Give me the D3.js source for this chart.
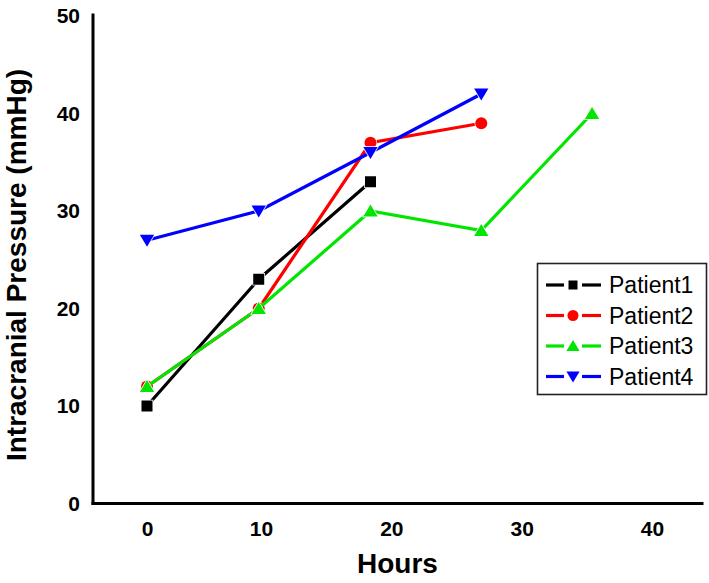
<!DOCTYPE html>
<html>
<head>
<meta charset="utf-8">
<script src="https://cdn.jsdelivr.net/npm/d3@7"></script>
<style>
  html, body { margin: 0; padding: 0; background: #fff; }
  svg { display: block; }
  text { font-family: "Liberation Sans", Arial, Helvetica, sans-serif; }
</style>
</head>
<body>
<svg id="chart" width="709" height="583"></svg>
<script>
// ---- data ----
const hours = [0, 9.8, 18.4, 26.9, 35.4];
const patient1 = [10, 23, 33];
const patient2 = [12, 20, 37, 39];
const patient3 = [12, 20, 30, 28, 40];
const patient4 = [27, 30, 36, 42];
const seriesNames = ["Patient1", "Patient2", "Patient3", "Patient4"];
const seriesColors = ["#000000", "#ff0000", "#00e600", "#0000ff"];
const seriesShapes = ["square", "circle", "triangleUp", "triangleDown"];
const xTicks = [0, 10, 20, 30, 40];
const yTicks = [0, 10, 20, 30, 40, 50];
const xTitle = "Hours";
const yTitle = "Intracranial Pressure (mmHg)";

const seriesValues = [patient1, patient2, patient3, patient4];

const svg = d3.select("#chart");

// piecewise-linear x axis (as drawn in the original figure)
const x = d3.scaleLinear().domain([-4.7, 0, 10, 40, 43.85]).range([93, 147, 261, 652, 702]);
const y = d3.scaleLinear().domain([0, 50]).range([503.5, 16]);

// axes
const xAxis = d3.axisBottom(x).tickValues(xTicks).tickSize(0).tickPadding(18).tickFormat(d3.format("d"));
const yAxis = d3.axisLeft(y).tickValues(yTicks).tickSize(0).tickPadding(13).tickFormat(d3.format("d"));

const gx = svg.append("g").attr("transform", `translate(0,${y(0)})`).call(xAxis);
const gy = svg.append("g").attr("transform", `translate(93,0)`).call(yAxis);

[gx, gy].forEach(g => {
  g.select(".domain").attr("stroke", "#000").attr("stroke-width", 3).attr("stroke-linecap", "square");
  g.selectAll("text").attr("font-size", 21).attr("font-weight", "bold").attr("fill", "#000")
    .attr("font-family", '"Liberation Sans", Arial, sans-serif');
});
gy.select(".domain").attr("d", `M0,${y(0)}V${y(50) - 1}`);
gx.select(".domain").attr("d", `M93,0H702`);

// axis titles
svg.append("text")
  .attr("x", (93 + 702) / 2)
  .attr("y", 573)
  .attr("text-anchor", "middle")
  .attr("font-size", 28).attr("font-weight", "bold")
  .text(xTitle);

svg.append("text")
  .attr("transform", `translate(26,${265}) rotate(-90)`)
  .attr("text-anchor", "middle")
  .attr("font-size", 28).attr("font-weight", "bold")
  .text(yTitle);

// symbol paths
function shapePath(shape, s) {
  const h = s / 2;
  if (shape === "square") return `M${-h},${-h}H${h}V${h}H${-h}Z`;
  if (shape === "circle") return d3.symbol(d3.symbolCircle, Math.PI * h * h)();
  if (shape === "triangleUp") return `M0,${-s * 0.5}L${s * 0.55},${s * 0.42}L${-s * 0.55},${s * 0.42}Z`;
  if (shape === "triangleDown") return `M0,${s * 0.5}L${s * 0.55},${-s * 0.42}L${-s * 0.55},${-s * 0.42}Z`;
}
const plotSizes = { square: 11, circle: 12, triangleUp: 13, triangleDown: 13 };

const line = d3.line().x(d => x(d[0])).y(d => y(d[1]));

seriesValues.forEach((vals, i) => {
  const pts = vals.map((v, j) => [hours[j], v]);
  const g = svg.append("g");
  g.append("path").datum(pts)
    .attr("d", line)
    .attr("fill", "none")
    .attr("stroke", seriesColors[i])
    .attr("stroke-width", 3.2);
  g.selectAll("path.pt").data(pts).enter().append("path")
    .attr("class", "pt")
    .attr("transform", d => `translate(${x(d[0])},${y(d[1])})`)
    .attr("d", shapePath(seriesShapes[i], plotSizes[seriesShapes[i]]))
    .attr("fill", seriesColors[i])
    .attr("stroke", "#fff")
    .attr("stroke-width", 1.5)
    .attr("paint-order", "stroke");
});

// legend
const legend = svg.append("g");
legend.append("rect")
  .attr("x", 537.5).attr("y", 263.5).attr("width", 169).attr("height", 131)
  .attr("fill", "#fff").attr("stroke", "#222").attr("stroke-width", 1.6);
const legSizes = { square: 9, circle: 11, triangleUp: 12, triangleDown: 12 };
seriesNames.forEach((name, i) => {
  const yy = 285 + i * 30.5;
  const row = legend.append("g").attr("transform", `translate(0,${yy})`);
  row.append("line").attr("x1", 546).attr("x2", 564).attr("y1", 0).attr("y2", 0)
    .attr("stroke", seriesColors[i]).attr("stroke-width", 3.2);
  row.append("line").attr("x1", 582).attr("x2", 601).attr("y1", 0).attr("y2", 0)
    .attr("stroke", seriesColors[i]).attr("stroke-width", 3.2);
  row.append("path").attr("transform", "translate(573,0)")
    .attr("d", shapePath(seriesShapes[i], legSizes[seriesShapes[i]]))
    .attr("fill", seriesColors[i]);
  row.append("text").attr("x", 609).attr("y", 0).attr("dy", "0.36em")
    .attr("font-size", 23).attr("fill", "#000").text(name);
});
</script>
</body>
</html>
